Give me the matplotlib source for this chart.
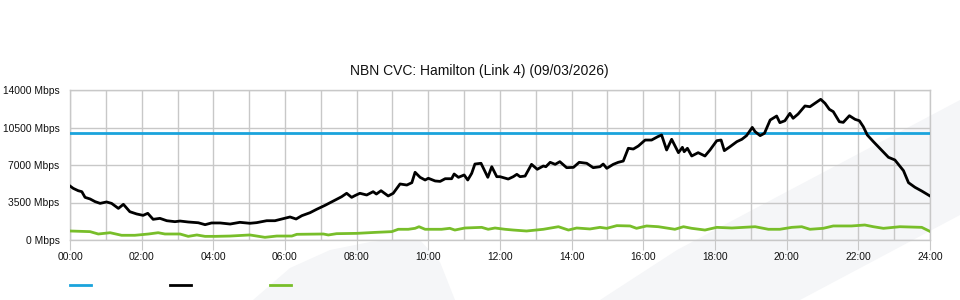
import matplotlib
matplotlib.use("Agg")
import matplotlib.pyplot as plt
from matplotlib.lines import Line2D
from matplotlib.patches import Polygon

plt.rcParams['font.family'] = ['Liberation Sans', 'DejaVu Sans']

title = "NBN CVC: Hamilton (Link 4) (09/03/2026)"

# capacity (blue)
capacity = 10000

# traffic (black) - hours, Mbps
traffic_t = [0.00, 0.09, 0.23, 0.33, 0.42, 0.56, 0.70, 0.84, 1.02, 1.16, 1.35, 1.49,
             1.67, 1.86, 2.04, 2.17, 2.32, 2.51, 2.70, 2.93, 3.07, 3.30, 3.58, 3.77,
             3.95, 4.19, 4.47, 4.74, 5.02, 5.21, 5.49, 5.72, 5.91, 6.14, 6.31, 6.47,
             6.70, 6.88, 7.12, 7.35, 7.58, 7.72, 7.86, 7.95, 8.09, 8.28, 8.46, 8.55,
             8.68, 8.88, 9.02, 9.21, 9.40, 9.54, 9.63, 9.77, 9.91, 10.00, 10.19, 10.33,
             10.47, 10.65, 10.72, 10.84, 11.00, 11.10, 11.21, 11.30, 11.47, 11.66, 11.77, 11.91,
             12.00, 12.23, 12.37, 12.47, 12.56, 12.70, 12.88, 13.04, 13.21, 13.28, 13.40, 13.54,
             13.67, 13.86, 14.05, 14.21, 14.42, 14.60, 14.79, 14.88, 14.98, 15.16, 15.30, 15.44,
             15.58, 15.72, 15.86, 16.05, 16.23, 16.40, 16.51, 16.65, 16.79, 16.98, 17.09, 17.14,
             17.23, 17.35, 17.53, 17.72, 17.86, 18.05, 18.17, 18.26, 18.42, 18.61, 18.75, 18.88,
             19.04, 19.12, 19.26, 19.38, 19.54, 19.72, 19.81, 19.95, 20.09, 20.18, 20.32, 20.51,
             20.65, 20.79, 20.95, 21.07, 21.19, 21.30, 21.47, 21.58, 21.75, 21.91, 22.03, 22.14,
             22.25, 22.42, 22.60, 22.84, 23.02, 23.26, 23.40, 23.58, 23.77, 24.00]
traffic_v = [5040, 4820, 4600, 4510, 3980, 3830, 3580, 3420, 3550, 3420, 2950, 3330,
             2640, 2430, 2300, 2490, 1930, 2020, 1800, 1710, 1770, 1680, 1610, 1430,
             1590, 1590, 1490, 1650, 1560, 1620, 1800, 1800, 1960, 2150, 1960, 2270,
             2550, 2860, 3240, 3640, 4040, 4360, 3980, 4140, 4360, 4200, 4510, 4290,
             4600, 4110, 4360, 5230, 5130, 5350, 6320, 5850, 5600, 5760, 5510, 5470,
             5720, 5720, 6160, 5850, 6070, 5600, 6220, 7090, 7160, 5850, 6840, 5910,
             5910, 5690, 5910, 6130, 5910, 5970, 7060, 6600, 6910, 6840, 7250, 7060,
             7310, 6750, 6780, 7250, 7160, 6750, 6840, 7090, 6690, 7060, 7250, 7370,
             8560, 8490, 8770, 9330, 9330, 9640, 9800, 8400, 9400, 8150, 8650, 8240,
             8560, 7840, 8150, 7840, 8400, 9270, 9330, 8340, 8710, 9180, 9400, 9740,
             10510, 10110, 9740, 9960, 11200, 11570, 10950, 11130, 11820, 11360, 11760, 12510,
             12440, 12760, 13130, 12760, 12200, 11980, 11040, 10980, 11600, 11260, 11130, 10570,
             9800, 9180, 8560, 7720, 7470, 6470, 5350, 4920, 4570, 4110]

# second traffic series (green) - hours, Mbps
green_t = [0.00, 0.56, 0.79, 1.12, 1.44, 1.81, 2.19, 2.46, 2.65, 3.07, 3.30, 3.54,
           3.77, 4.05, 4.47, 5.02, 5.44, 5.77, 6.19, 6.33, 7.07, 7.21, 7.44, 8.00,
           8.51, 8.98, 9.16, 9.44, 9.63, 9.74, 9.91, 10.37, 10.60, 10.74, 11.02, 11.49,
           11.67, 11.86, 12.14, 12.37, 12.74, 13.21, 13.63, 13.91, 14.14, 14.51, 14.79, 14.98,
           15.26, 15.63, 15.81, 16.09, 16.42, 16.88, 17.12, 17.35, 17.72, 18.05, 18.47, 19.12,
           19.49, 19.81, 20.14, 20.42, 20.65, 21.02, 21.30, 21.81, 22.18, 22.42, 22.70, 23.16,
           23.77, 24.00]
green_v = [840, 780, 560, 680, 440, 440, 560, 680, 560, 560, 340, 470,
           340, 340, 370, 470, 250, 370, 370, 530, 560, 470, 590, 620,
           710, 780, 1000, 1000, 1090, 1240, 1000, 1000, 1090, 930, 1120, 1180,
           1000, 1120, 1000, 930, 840, 1000, 1240, 930, 1120, 1030, 1180, 1090,
           1340, 1310, 1090, 1310, 1240, 1000, 1240, 1090, 930, 1180, 1120, 1240,
           1000, 1000, 1180, 1240, 1000, 1090, 1310, 1310, 1400, 1240, 1090, 1240,
           1180, 800]

y_ticks = [0, 3500, 7000, 10500, 14000]
x_ticks = list(range(0, 25, 2))
x_labels = [f"{h:02d}:00" for h in x_ticks]

BLUE = '#1aa3dc'
GREEN = '#78be2a'
GRID = '#c8c8c8'

fig = plt.figure(figsize=(9.6, 3.0), dpi=100)

# faint background watermark shapes (figure pixel coords, y from top)
W, H = 960, 300
def fig_poly(pts):
    return Polygon([(x / W, 1 - y / H) for x, y in pts], closed=True,
                   transform=fig.transFigure, facecolor='#f5f6f8',
                   edgecolor='none', zorder=0)
fig.add_artist(fig_poly([(253, 300), (290, 268), (330, 250), (370, 242), (400, 239),
                         (420, 240), (440, 262), (455, 300)]))
fig.add_artist(fig_poly([(600, 300), (677, 250), (790, 190), (960, 100),
                         (960, 215), (800, 300)]))

ax = fig.add_axes([70 / W, 1 - 240 / H, 860 / W, 150 / H])
ax.set_facecolor('none')

ax.axhline(capacity, color=BLUE, lw=2, zorder=3)
ax.plot(traffic_t, traffic_v, color='black', lw=2, zorder=4)
ax.plot(green_t, green_v, color=GREEN, lw=2, zorder=3)

ax.set_xlim(0, 24)
ax.set_ylim(0, 14000)
ax.set_yticks(y_ticks)
ax.set_yticklabels([f"{v} Mbps" for v in y_ticks])
ax.set_xticks(x_ticks)
ax.set_xticklabels(x_labels)
ax.set_xticks(range(0, 25), minor=True)

ax.grid(True, which='both', color=GRID, lw=1, zorder=1)
ax.set_axisbelow(True)
ax.tick_params(axis='y', length=0, pad=7.5, labelsize=7.4, labelcolor='#111111')
ax.tick_params(axis='x', which='major', length=7.5, color=GRID, pad=1.5,
               labelsize=7.4, labelcolor='#111111')
ax.tick_params(axis='x', which='minor', length=0)
for s in ax.spines.values():
    s.set_color(GRID)
    s.set_linewidth(1)

fig.text(479 / W, 1 - 71 / H, title, ha='center', va='center', fontsize=10,
         color='#111111')

# legend swatches (labels blank in the original)
for x0, c in [(70, BLUE), (170, 'black'), (270, GREEN)]:
    fig.add_artist(Line2D([x0 / W, (x0 + 21) / W], [1 - 285 / H] * 2,
                          transform=fig.transFigure, color=c, lw=2))

fig.savefig('out.png', dpi=100)
